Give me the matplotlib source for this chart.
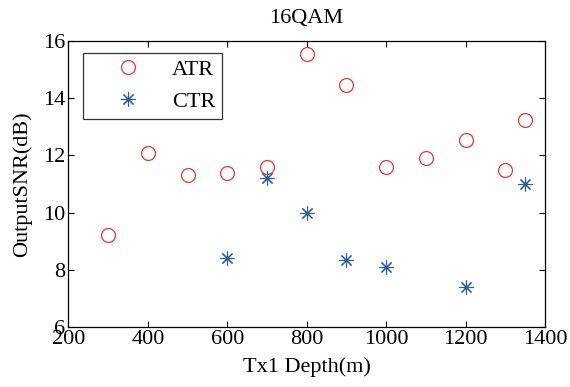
import matplotlib
matplotlib.use('Agg')
import matplotlib.pyplot as plt

plt.rcParams['font.family'] = ['Liberation Serif', 'DejaVu Serif']
plt.rcParams['mathtext.fontset'] = 'stix'

# ATR series
atr_depth = [300, 400, 500, 600, 700, 800, 900, 1000, 1100, 1200, 1300, 1350]
atr_snr = [9.2, 12.1, 11.3, 11.4, 11.6, 15.55, 14.45, 11.6, 11.9, 12.55, 11.5, 13.25]

# CTR series
ctr_depth = [600, 700, 800, 900, 1000, 1200, 1350]
ctr_snr = [8.4, 11.2, 10.0, 8.35, 8.1, 7.4, 11.0]

xticks = [200, 400, 600, 800, 1000, 1200, 1400]
yticks = [6, 8, 10, 12, 14, 16]

fs = 16

fig = plt.figure(figsize=(5.7, 3.87), dpi=100)
ax = fig.add_axes([0.120, 0.155, 0.836, 0.739])

ax.plot(atr_depth, atr_snr, linestyle='none', marker='o', markersize=10,
        markerfacecolor='none', markeredgecolor='#ee3333', markeredgewidth=0.9,
        label='ATR')
ax.plot(ctr_depth, ctr_snr, linestyle='none', marker=(8, 2, 0), markersize=10,
        color='#2a5aa8', markeredgewidth=0.8, label='CTR')

ax.set_xlim(200, 1400)
ax.set_ylim(6, 16)
ax.set_xticks(xticks)
ax.set_yticks(yticks)
ax.tick_params(direction='in', top=True, right=True, labelsize=fs, length=4,
               width=0.8, pad=2)
for s in ax.spines.values():
    s.set_linewidth(0.9)

ax.set_title('16QAM', fontsize=fs, pad=13)
ax.set_xlabel('Tx1 Depth(m)', fontsize=fs, labelpad=6)
ax.set_ylabel('OutputSNR(dB)', fontsize=fs, labelpad=8)

leg = ax.legend(loc='upper left', bbox_to_anchor=(0.031, 0.958), fontsize=fs,
                frameon=True, fancybox=False, edgecolor='black',
                borderpad=0.3, handletextpad=0.3, labelspacing=0.5,
                handlelength=3.4, borderaxespad=0)
leg.get_frame().set_linewidth(0.9)

fig.savefig('out.png', dpi=100)
